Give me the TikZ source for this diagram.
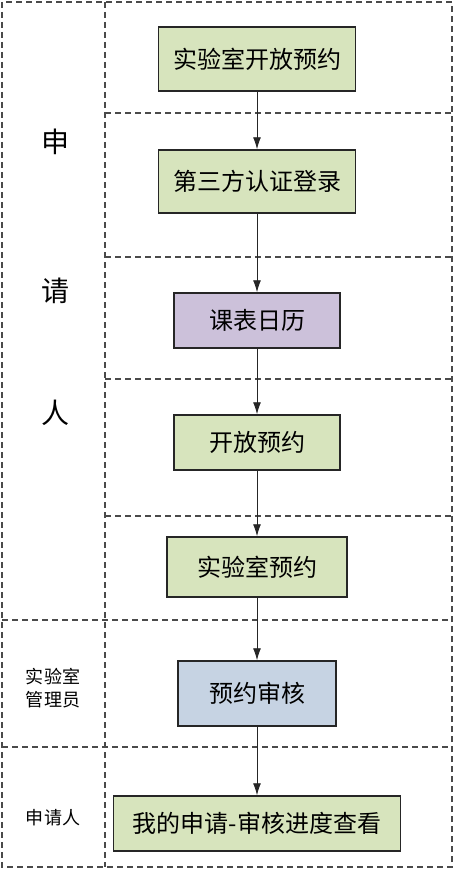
\documentclass[tikz,border=0pt]{standalone}
\usepackage{fontspec}
\setmainfont{Noto Sans CJK SC}
\usetikzlibrary{arrows.meta,positioning}
\definecolor{muted}{HTML}{4A4A4A}
\definecolor{boxgreen}{HTML}{D7E4BD}
\definecolor{boxpurple}{HTML}{CCC1DA}
\definecolor{boxblue}{HTML}{C6D3E3}
\tikzset{
  stepbox/.style={draw=black!85,line width=1.1pt,inner sep=0pt,font=\fontsize{18}{21}\selectfont},
  lane/.style={muted,line width=0.8pt,dash pattern=on 4.5pt off 3pt},
  flow/.style={-{Latex[length=9pt,width=6pt]},line width=0.7pt,black!85},
  bigtag/.style={font=\fontsize{21}{24}\selectfont,inner sep=0pt},
  smalltag/.style={font=\fontsize{13.5}{17}\selectfont,inner sep=0pt,align=center}
}

\begin{document}
\begin{tikzpicture}[x=0.75pt,y=-0.75pt]
  \useasboundingbox (0,0) rectangle (454,870);
  % swimlanes
  \draw[lane] (2,2) rectangle (452,867);
  \draw[lane] (105,2) -- (105,867);
  \foreach \y in {113,257,379,516} \draw[lane] (105,\y) -- (452,\y);
  \foreach \y in {620,747} \draw[lane] (2,\y) -- (452,\y);
  % lane titles
  \node[bigtag] (tshen) at (55,142) {申};
  \node[bigtag] (tqing) at (55,291) {请};
  \node[bigtag] (tren) at (55,413) {人};
  \node[smalltag] (admin) at (53,688) {实验室\\管理员};
  \node[smalltag] (applicant) at (53,818) {申请人};
  % steps
  \node[stepbox,fill=boxgreen,minimum width=147.75pt,minimum height=48pt] (open) at (257,59) {实验室开放预约};
  \node[stepbox,fill=boxgreen,minimum width=147.75pt,minimum height=47.25pt] (login) at (257,181.5) {第三方认证登录};
  \node[stepbox,fill=boxpurple,minimum width=124.5pt,minimum height=41.25pt] (calendar) at (257,320.5) {课表日历};
  \node[stepbox,fill=boxgreen,minimum width=124.5pt,minimum height=41.25pt] (openres) at (257,442.5) {开放预约};
  \node[stepbox,fill=boxgreen,minimum width=135pt,minimum height=45pt] (labres) at (257,567) {实验室预约};
  \node[stepbox,fill=boxblue,minimum width=118.5pt,minimum height=48.75pt] (review) at (257,693.5) {预约审核};
  \node[stepbox,fill=boxgreen,minimum width=215.25pt,minimum height=41.25pt] (progress) at (257,823.5) {我的申请-审核进度查看};
  % connectors
  \draw[flow] (open) -- (login);
  \draw[flow] (login) -- (calendar);
  \draw[flow] (calendar) -- (openres);
  \draw[flow] (openres) -- (labres);
  \draw[flow] (labres) -- (review);
  \draw[flow] (review) -- (progress);
\end{tikzpicture}
\end{document}
